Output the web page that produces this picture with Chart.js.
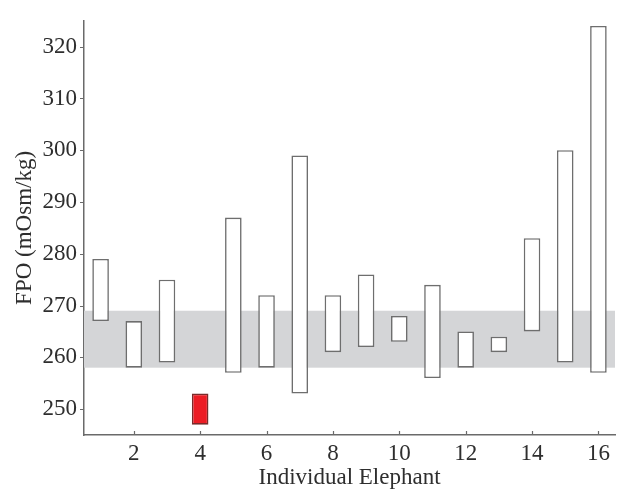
<!DOCTYPE html>
<html>
<head>
<meta charset="utf-8">
<script src="https://cdn.jsdelivr.net/npm/chart.js@4/dist/chart.umd.min.js"></script>
<style>
  html, body { margin: 0; padding: 0; background: #fff; }
  #wrap { width: 632px; height: 499px; }
</style>
</head>
<body>
<div id="wrap"><canvas id="fpoChart"></canvas></div>
<script>
// FPO range per elephant
const elephants = [1, 2, 3, 4, 5, 6, 7, 8, 9, 10, 11, 12, 13, 14, 15, 16];
const fpoLow  = [267, 258, 259, 247, 257, 258, 253, 261, 262, 263, 256, 258, 261, 265, 259, 257];
const fpoHigh = [279, 267, 275, 253, 287, 272, 299, 272, 276, 268, 274, 265, 264, 283, 300, 324];
const referenceRange = [258, 269];
const highlighted = [4];
const yTicks = [250, 260, 270, 280, 290, 300, 310, 320];
const xTicks = [2, 4, 6, 8, 10, 12, 14, 16];

const textColor = '#2e2e2e';
const axisColor = '#6a6a6a';
const serif = "'Times New Roman', 'Liberation Serif', Times, serif";

// Gray reference band behind the bars
const bandPlugin = {
    id: 'band',
    beforeDatasetsDraw(chart) {
        const { ctx, chartArea, scales } = chart;
        const yTop = scales.y.getPixelForValue(referenceRange[1]);
        const yBot = scales.y.getPixelForValue(referenceRange[0]);
        ctx.save();
        ctx.fillStyle = '#d4d5d7';
        ctx.fillRect(chartArea.left, yTop, chartArea.right - chartArea.left, yBot - yTop);
        ctx.restore();
    }
};

// Short tick marks, x ticks pointing into the plot
const tickPlugin = {
    id: 'ticks',
    afterDraw(chart) {
        const { ctx, chartArea, scales } = chart;
        ctx.save();
        ctx.strokeStyle = axisColor;
        ctx.lineWidth = 1.2;
        ctx.beginPath();
        xTicks.forEach(v => {
            const x = Math.round(scales.x.getPixelForValue(v)) + 0.5;
            ctx.moveTo(x, chartArea.bottom);
            ctx.lineTo(x, chartArea.bottom - 4);
        });
        yTicks.forEach(v => {
            const y = Math.round(scales.y.getPixelForValue(v)) + 0.5;
            ctx.moveTo(chartArea.left, y);
            ctx.lineTo(chartArea.left - 4, y);
        });
        ctx.stroke();
        ctx.restore();
    }
};

const isHighlighted = c => highlighted.includes(elephants[c.dataIndex]);

new Chart(document.getElementById('fpoChart'), {
    type: 'bar',
    data: {
        datasets: [{
            label: 'FPO',
            data: elephants.map((e, i) => ({ x: e, y: [fpoLow[i], fpoHigh[i]] })),
            backgroundColor: c => isHighlighted(c) ? '#ec1c24' : '#ffffff',
            borderColor: c => isHighlighted(c) ? '#7a2a2a' : '#6e6e6e',
            borderWidth: 1.6,
            borderSkipped: false,
            categoryPercentage: 1,
            barPercentage: 0.5
        }]
    },
    plugins: [bandPlugin, tickPlugin],
    options: {
        responsive: true,
        maintainAspectRatio: false,
        animation: false,
        layout: { padding: { top: 17, right: 17, left: 0, bottom: 0 } },
        plugins: {
            legend: { display: false },
            tooltip: { enabled: false }
        },
        scales: {
            x: {
                type: 'linear',
                offset: false,
                min: 0.5,
                max: 16.5,
                afterBuildTicks: s => { s.ticks = xTicks.map(v => ({ value: v })); },
                afterFit: s => { s.height = 64; },
                grid: { display: false, drawTicks: false, offset: false },
                border: { display: true, color: axisColor, width: 1.5 },
                ticks: {
                    color: textColor,
                    font: { family: serif, size: 23 },
                    padding: 5,
                    maxRotation: 0
                },
                title: {
                    display: true,
                    text: 'Individual Elephant',
                    color: textColor,
                    font: { family: serif, size: 23 },
                    padding: { top: 0, bottom: 7 }
                }
            },
            y: {
                min: 245,
                max: 325,
                afterBuildTicks: s => { s.ticks = yTicks.map(v => ({ value: v })); },
                afterFit: s => { s.width = 84; },
                grid: { display: false, drawTicks: false },
                border: { display: true, color: axisColor, width: 1.5 },
                ticks: {
                    color: textColor,
                    font: { family: serif, size: 23 },
                    padding: 7
                },
                title: {
                    display: true,
                    text: 'FPO (mOsm/kg)',
                    color: textColor,
                    font: { family: serif, size: 23 },
                    padding: { top: 11, bottom: 0 }
                }
            }
        }
    }
});
</script>
</body>
</html>
